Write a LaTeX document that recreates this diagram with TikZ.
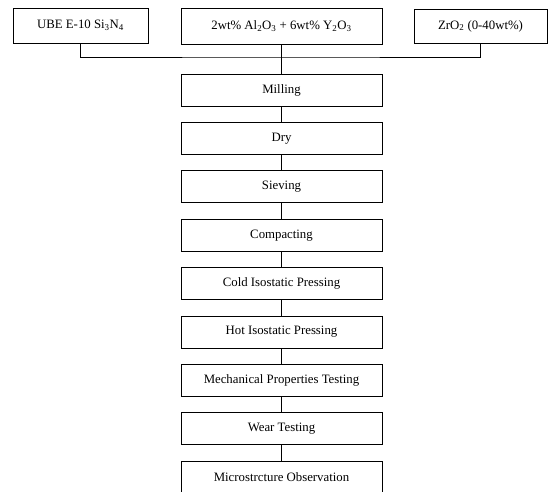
\documentclass[tikz,border=0pt]{standalone}
\usepackage{fontspec}
\setmainfont{Liberation Serif}
\begin{document}
\begin{tikzpicture}[x=1pt,y=-1pt,
  box/.style={draw=black,line width=0.9pt,inner sep=0pt,align=center,font=\fontsize{12.8}{15}\selectfont},
  stepbox/.style={box,minimum width=201pt,minimum height=32pt},
  link/.style={draw=black,line width=0.9pt}]
\useasboundingbox (0,0) rectangle (548,491);
\clip (0,0) rectangle (548,491);
\node[box,minimum width=135pt,minimum height=35pt] (l) at (80.5,25.5) {UBE E-10 Si\textsubscript{3}N\textsubscript{4}};
\node[box,minimum width=201pt,minimum height=36pt] (m) at (281.5,26) {2wt\% Al\textsubscript{2}O\textsubscript{3} + 6wt\% Y\textsubscript{2}O\textsubscript{3}};
\node[box,minimum width=133pt,minimum height=34pt] (r) at (480.5,26) {ZrO\textsubscript{2} (0-40wt\%)};
\coordinate (j) at (281.5,57);
\node[stepbox] (s1) at (281.5,90) {Milling};
\node[stepbox] (s2) at (281.5,138.4) {Dry};
\node[stepbox] (s3) at (281.5,186.8) {Sieving};
\node[stepbox] (s4) at (281.5,235.2) {Compacting};
\node[stepbox] (s5) at (281.5,283.6) {Cold Isostatic Pressing};
\node[stepbox] (s6) at (281.5,332) {Hot Isostatic Pressing};
\node[stepbox] (s7) at (281.5,380.4) {Mechanical Properties Testing};
\node[stepbox] (s8) at (281.5,428.8) {Wear Testing};
\node[stepbox] (s9) at (281.5,477.2) {Microstrcture Observation};
\draw[link] (l.south) |- (j) -| (r.south);
\draw[link] (m.south) -- (s1.north);
\foreach \a/\b in {s1/s2,s2/s3,s3/s4,s4/s5,s5/s6,s6/s7,s7/s8,s8/s9}
  \draw[link] (\a.south) -- (\b.north);
\end{tikzpicture}
\end{document}
